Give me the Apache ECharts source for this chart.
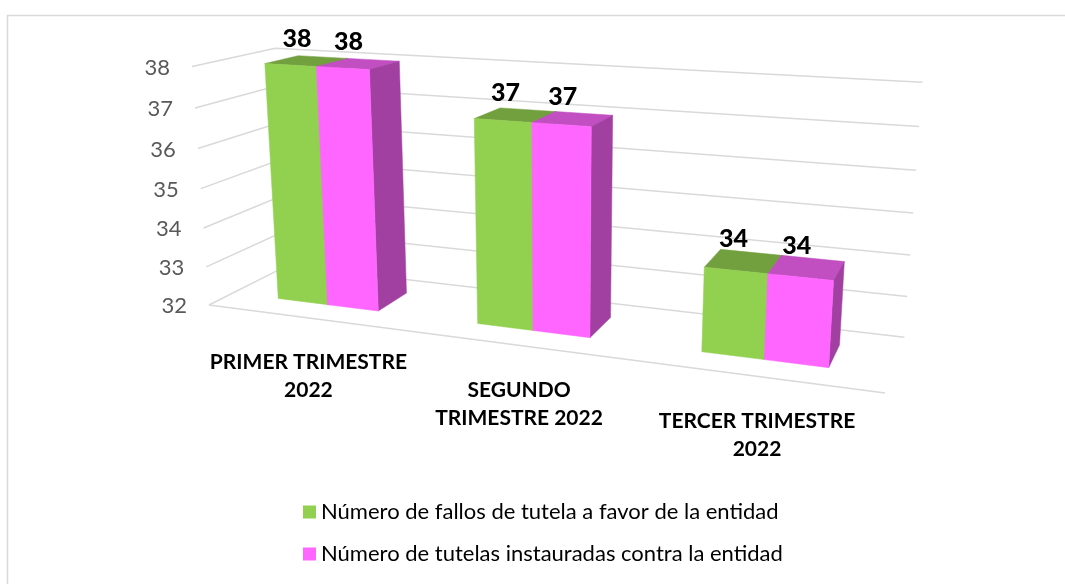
<!DOCTYPE html>
<html>
<head>
<meta charset="utf-8">
<style>
  html, body { margin: 0; padding: 0; background: #fff; }
  #chart { width: 1065px; height: 584px; }
</style>
<script src="https://cdn.jsdelivr.net/npm/echarts@6/dist/echarts.min.js"></script>
</head>
<body>
<div id="chart"></div>
<script>
const categories = ['PRIMER TRIMESTRE\n2022', 'SEGUNDO\nTRIMESTRE 2022', 'TERCER TRIMESTRE\n2022']
const fallosFavor = [38, 37, 34]
const tutelasContra = [38, 37, 34]
const seriesNames = [
  'Número de fallos de tutela a favor de la entidad',
  'Número de tutelas instauradas contra la entidad'
]
const yTicks = [32, 33, 34, 35, 36, 37, 38]

const FONT = 'Lato, "Noto Sans", sans-serif'
const GRID_COLOR = '#d9d9d9'

// perspective camera of the 3-D box: columns are the images of the
// category (u), value (v) and depth (z) unit axes and of the origin
const CAM = [
  [527.3, -25.88, 107.1, 209],
  [22.0, -241.5, -12.59, 305],
  [-0.1681, -0.0463, 0.1007, 1]
]
const ZF = 0.29 // bar front depth
const ZB = 0.71 // bar back depth
const BAR_FRAC = 0.258 // one bar, share of a category band

const project = ( u, v, z ) => {
  const r = CAM.map( c => c[0] * u + c[1] * v + c[2] * z + c[3] )
  return [r[0] / r[2], r[1] / r[2]]
}

const normalizer = cs => ( {
  u : px => ( px - cs.x ) / cs.width,
  v : py => ( cs.y + cs.height - py ) / cs.height
} )

const face = ( pts, fill ) => ( {
  type : 'polygon',
  shape : { points : pts.map( p => project( p[0], p[1], p[2] ) ) },
  style : { fill : fill, stroke : fill, lineWidth : 0.5 }
} )

const barRender = ( side, colors ) => ( params, api ) => {
  const n = normalizer( params.coordSys )
  const top = api.coord( [api.value( 0 ), api.value( 1 )] )
  const base = api.coord( [api.value( 0 ), yTicks[0]] )
  const w = BAR_FRAC * api.size( [1, 0] )[0] / params.coordSys.width
  const uc = n.u( top[0] )
  const u0 = side < 0 ? uc - w : uc
  const u1 = u0 + w
  const v1 = n.v( top[1] )
  const v0 = n.v( base[1] )
  const lbl = project( ( u0 + u1 ) / 2, v1, ( ZF + ZB ) / 2 )
  return {
    type : 'group',
    children : [
      face( [[u0, v1, ZF], [u1, v1, ZF], [u1, v1, ZB], [u0, v1, ZB]], colors.top ),
      face( [[u1, v0, ZF], [u1, v1, ZF], [u1, v1, ZB], [u1, v0, ZB]], colors.side ),
      face( [[u0, v0, ZF], [u1, v0, ZF], [u1, v1, ZF], [u0, v1, ZF]], colors.front ),
      {
        type : 'text',
        x : lbl[0] - 10,
        y : lbl[1] - 22,
        style : {
          text : String( api.value( 1 ) ),
          fill : '#000',
          font : '900 25px ' + FONT,
          align : 'center',
          verticalAlign : 'middle'
        }
      }
    ]
  }
}

const gridRender = ( params, api ) => {
  const n = normalizer( params.coordSys )
  const tick = api.value( 1 )
  const v = n.v( api.coord( [0, tick] )[1] )
  const a = project( 0, v, 0 )
  const children = [
    {
      type : 'polyline',
      shape : { points : [a, project( 0, v, 1 ), project( 1, v, 1 )] },
      style : { stroke : GRID_COLOR, lineWidth : 1.5, fill : null }
    },
    {
      type : 'text',
      x : a[0] - 22,
      y : a[1] + 1,
      style : {
        text : String( tick ),
        fill : '#595959',
        font : '22px ' + FONT,
        align : 'right',
        verticalAlign : 'middle'
      }
    }
  ]
  if ( params.dataIndex === 0 ) {
    children.push( {
      type : 'line',
      shape : { x1 : a[0], y1 : a[1], x2 : project( 1, v, 0 )[0], y2 : project( 1, v, 0 )[1] },
      style : { stroke : GRID_COLOR, lineWidth : 1.5 }
    } )
  }
  return { type : 'group', children : children }
}

const categoryRender = ( params, api ) => {
  const n = normalizer( params.coordSys )
  const p = api.coord( [api.value( 0 ), yTicks[0]] )
  const q = project( n.u( p[0] ), n.v( p[1] ), 0 )
  return {
    type : 'text',
    x : q[0] + 3,
    y : q[1] + 31,
    style : {
      text : categories[api.value( 0 )],
      fill : '#000',
      font : 'bold 21px ' + FONT,
      lineHeight : 28,
      align : 'center',
      verticalAlign : 'top'
    }
  }
}

const chart = echarts.init( document.getElementById( 'chart' ) )

chart.setOption( {
  animation : false,
  color : ['#92D050', '#FF66FF'],
  graphic : [
    {
      type : 'rect',
      shape : { x : 7.5, y : 15.5, width : 1200, height : 700 },
      style : { fill : null, stroke : GRID_COLOR, lineWidth : 1.5 },
      silent : true
    }
  ],
  grid : { left : 100, top : 100, width : 600, height : 300 },
  xAxis : { type : 'category', data : categories, show : false },
  yAxis : { type : 'value', min : 32, max : 38, interval : 1, show : false },
  legend : {
    data : seriesNames,
    orient : 'vertical',
    left : 303,
    top : 501,
    padding : 0,
    icon : 'rect',
    itemWidth : 13,
    itemHeight : 13,
    itemGap : 20,
    selectedMode : false,
    textStyle : { fontFamily : FONT, fontSize : 22, color : '#000', lineHeight : 22 }
  },
  series : [
    {
      type : 'custom',
      clip : false,
      silent : true,
      renderItem : gridRender,
      data : yTicks.map( t => [0, t] ),
      z : 1
    },
    {
      name : seriesNames[0],
      type : 'custom',
      clip : false,
      itemStyle : { color : '#92D050' },
      renderItem : barRender( -1, { front : '#92D050', top : '#72A03E', side : '#6E9A3A' } ),
      data : fallosFavor.map( ( v, i ) => [i, v] ),
      z : 2
    },
    {
      name : seriesNames[1],
      type : 'custom',
      clip : false,
      itemStyle : { color : '#FF66FF' },
      renderItem : barRender( 1, { front : '#FF66FF', top : '#C14FC1', side : '#A140A1' } ),
      data : tutelasContra.map( ( v, i ) => [i, v] ),
      z : 3
    },
    {
      type : 'custom',
      clip : false,
      silent : true,
      renderItem : categoryRender,
      data : categories.map( ( c, i ) => [i, yTicks[0]] ),
      z : 4
    }
  ]
} )
</script>
</body>
</html>
